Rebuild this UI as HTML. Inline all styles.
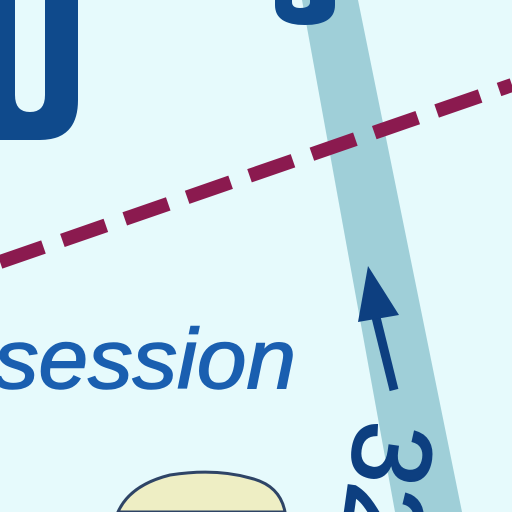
<!DOCTYPE html>
<html><head><meta charset="utf-8"><style>html,body{margin:0;padding:0;background:#e6fafc;width:512px;height:512px;overflow:hidden}svg{display:block}</style></head>
<body>
<svg width="512" height="512" viewBox="0 0 512 512">
<rect width="512" height="512" fill="#e6fafc"/>
<polygon points="302,0 358,0 462,512 395,512" fill="#9fcfd8"/>
<path d="M-40,-60 H78 V100 Q78,140 40,140 H0 Q-40,140 -40,100 Z M15,-60 V95 Q15,112 30,112 Q45,112 45,95 V-60 Z" fill="#0f4a8c" fill-rule="evenodd"/>
<path d="M275,-20 H335 V5 Q335,25 305,25 Q275,25 275,5 Z M292,-20 V2 Q292,8 300,8 Q310,8 310,2 V-20 Z" fill="#0f4a8c" fill-rule="evenodd"/>
<line x1="0" y1="262" x2="512" y2="85" stroke="#8b1a4f" stroke-width="14" stroke-dasharray="46,20"/>
<text x="-6" y="388" font-family="Liberation Sans, sans-serif" font-style="italic" font-size="84" textLength="302" lengthAdjust="spacingAndGlyphs" fill="#1a5fb0" stroke="#1a5fb0" stroke-width="1.5">session</text>
<line x1="373" y1="305" x2="394" y2="390" stroke="#0d3f80" stroke-width="9"/>
<polygon points="368,266 399,315 358,322" fill="#0d3f80"/>
<text transform="translate(358,418) rotate(98)" font-family="Liberation Sans, sans-serif" font-size="112" fill="#0d3f80" stroke="#0d3f80" stroke-width="2">32</text>
<path d="M118,512 Q130,485 170,475 Q215,468 250,478 Q280,485 285,512 Z" fill="#eeeec4" stroke="#2e4466" stroke-width="3"/>
</svg>
</body></html>
